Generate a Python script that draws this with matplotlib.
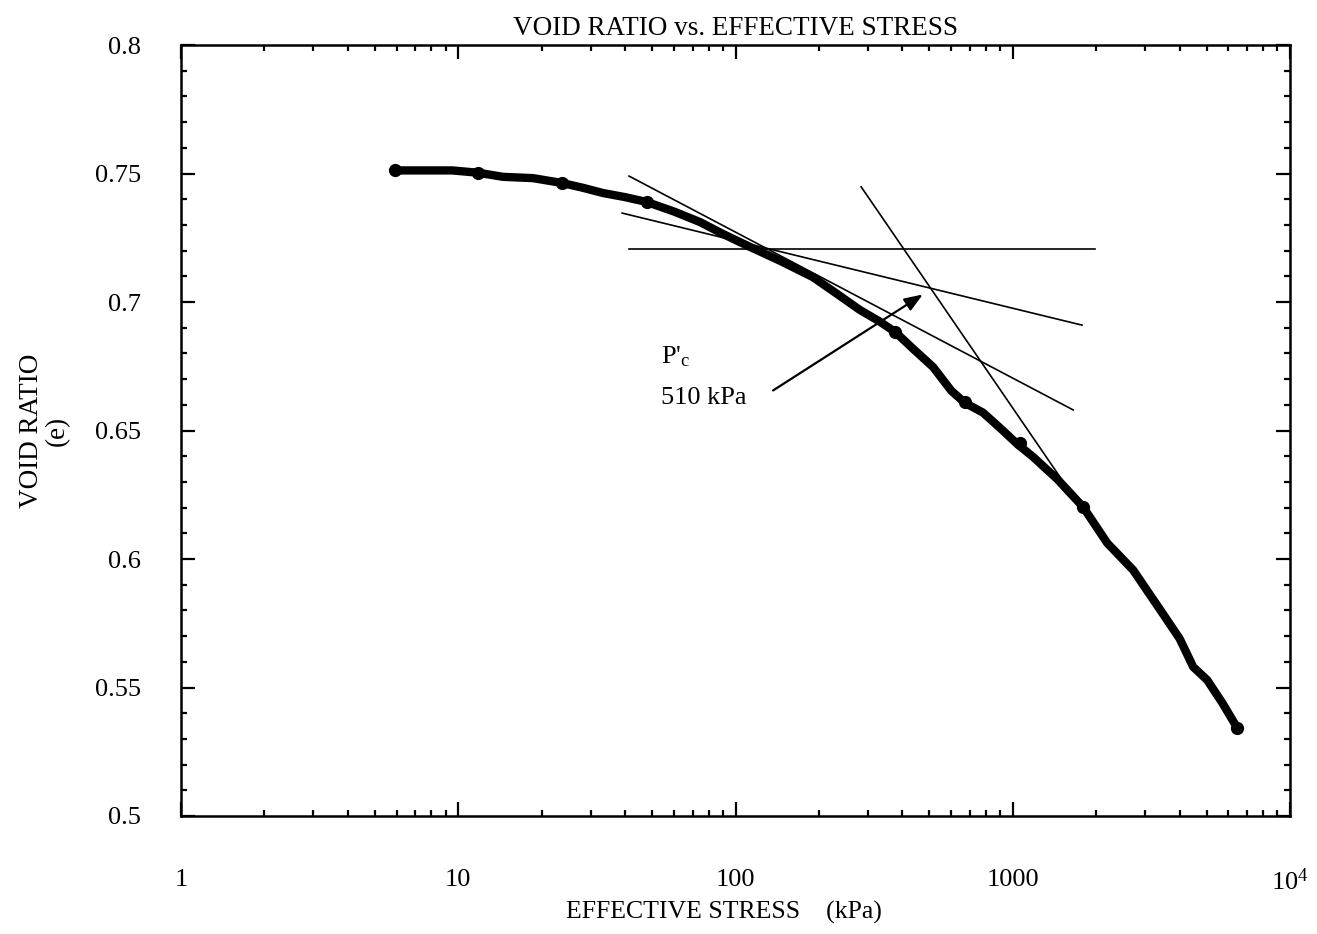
import matplotlib.pyplot as plt
import matplotlib.ticker as mticker
import numpy as np

plt.rcParams['font.family'] = ['Liberation Serif', 'DejaVu Serif']
plt.rcParams['mathtext.default'] = 'regular'

# consolidation curve (effective stress kPa, void ratio)
stress = [5.9, 9.5, 11.8, 14.5, 18.6, 23.7, 28, 33.3, 40, 47.9, 60, 74.5, 90, 113, 145,
          190, 230, 281, 330, 377, 440, 516, 600, 673, 780, 900, 1037, 1185, 1450,
          1795, 2192, 2718, 3404, 4000, 4476, 5028, 5700, 6450]
void = [0.7512, 0.7512, 0.7503, 0.7487, 0.7482, 0.7463, 0.7445, 0.7424, 0.7408, 0.7389,
        0.7352, 0.7311, 0.7265, 0.7214, 0.7160, 0.7097, 0.7035, 0.6969, 0.6925, 0.6883,
        0.6815, 0.6747, 0.6655, 0.6607, 0.6570, 0.6510, 0.6448, 0.6397, 0.6310, 0.6202,
        0.6062, 0.5957, 0.5802, 0.5690, 0.5580, 0.5529, 0.5440, 0.5343]
# measured points shown as dots
pts_stress = [5.9, 11.8, 23.7, 47.9, 377, 673, 1064, 1795, 6450]
pts_void = [0.7512, 0.7503, 0.7463, 0.7389, 0.6883, 0.6610, 0.6451, 0.6202, 0.5343]

# construction lines (Casagrande)
horiz_x = [41.3, 1983]
horiz_y = [0.7206, 0.7206]
tang_x = [41.3, 1652]
tang_y = [0.749, 0.658]
bisect_x = [39.0, 1778]
bisect_y = [0.7346, 0.691]
virgin_x = [284, 1507]
virgin_y = [0.7448, 0.6307]

fig = plt.figure(figsize=(13.17, 9.34), dpi=100)
ax = fig.add_axes([181/1317, 1 - 816/934, (1290-181)/1317, (816-45)/934])

ax.plot(stress, void, color='black', lw=6, solid_capstyle='round', solid_joinstyle='round')
ax.plot(pts_stress, pts_void, 'o', color='black', ms=8.5)
for xs, ys in [(horiz_x, horiz_y), (tang_x, tang_y), (bisect_x, bisect_y), (virgin_x, virgin_y)]:
    ax.plot(xs, ys, color='black', lw=1.2)

ax.annotate('', xy=(483, 0.7035), xytext=(134, 0.665),
            arrowprops=dict(arrowstyle='-|>,head_length=1.1,head_width=0.42', color='black', lw=1.6))
ax.text(54, 0.6786, "P'$_c$", fontsize=19, ha='left', va='center')
ax.text(54, 0.6627, '510 kPa', fontsize=19, ha='left', va='center')

ax.set_xscale('log')
ax.set_xlim(1, 1e4)
ax.set_ylim(0.5, 0.8)
ax.set_xticks([1, 10, 100, 1000, 10000])
ax.set_xticklabels(['1', '10', '100', '1000', '10$^4$'])
ax.xaxis.set_minor_locator(mticker.LogLocator(base=10, subs=np.arange(2, 10)))
ax.xaxis.set_minor_formatter(mticker.NullFormatter())
ax.set_yticks([0.5, 0.55, 0.6, 0.65, 0.7, 0.75, 0.8])
ax.set_yticklabels(['0.5', '0.55', '0.6', '0.65', '0.7', '0.75', '0.8'])
ax.yaxis.set_minor_locator(mticker.MultipleLocator(0.01))

ax.tick_params(which='both', direction='in', top=True, right=True, width=1.6)
ax.tick_params(which='major', length=10, labelsize=19)
ax.tick_params(which='minor', length=4)
ax.tick_params(axis='x', which='major', pad=38)
ax.tick_params(axis='y', which='major', pad=29)
for s in ax.spines.values():
    s.set_linewidth(1.8)

ax.set_title('VOID RATIO vs. EFFECTIVE STRESS', fontsize=19.5, pad=7)
ax.set_xlabel('EFFECTIVE STRESS    (kPa)', fontsize=18.5, labelpad=4, x=0.49)
ax.set_ylabel('VOID RATIO\n(e)', fontsize=19.5, labelpad=18, linespacing=1.05)

fig.savefig('out.png', dpi=100)
